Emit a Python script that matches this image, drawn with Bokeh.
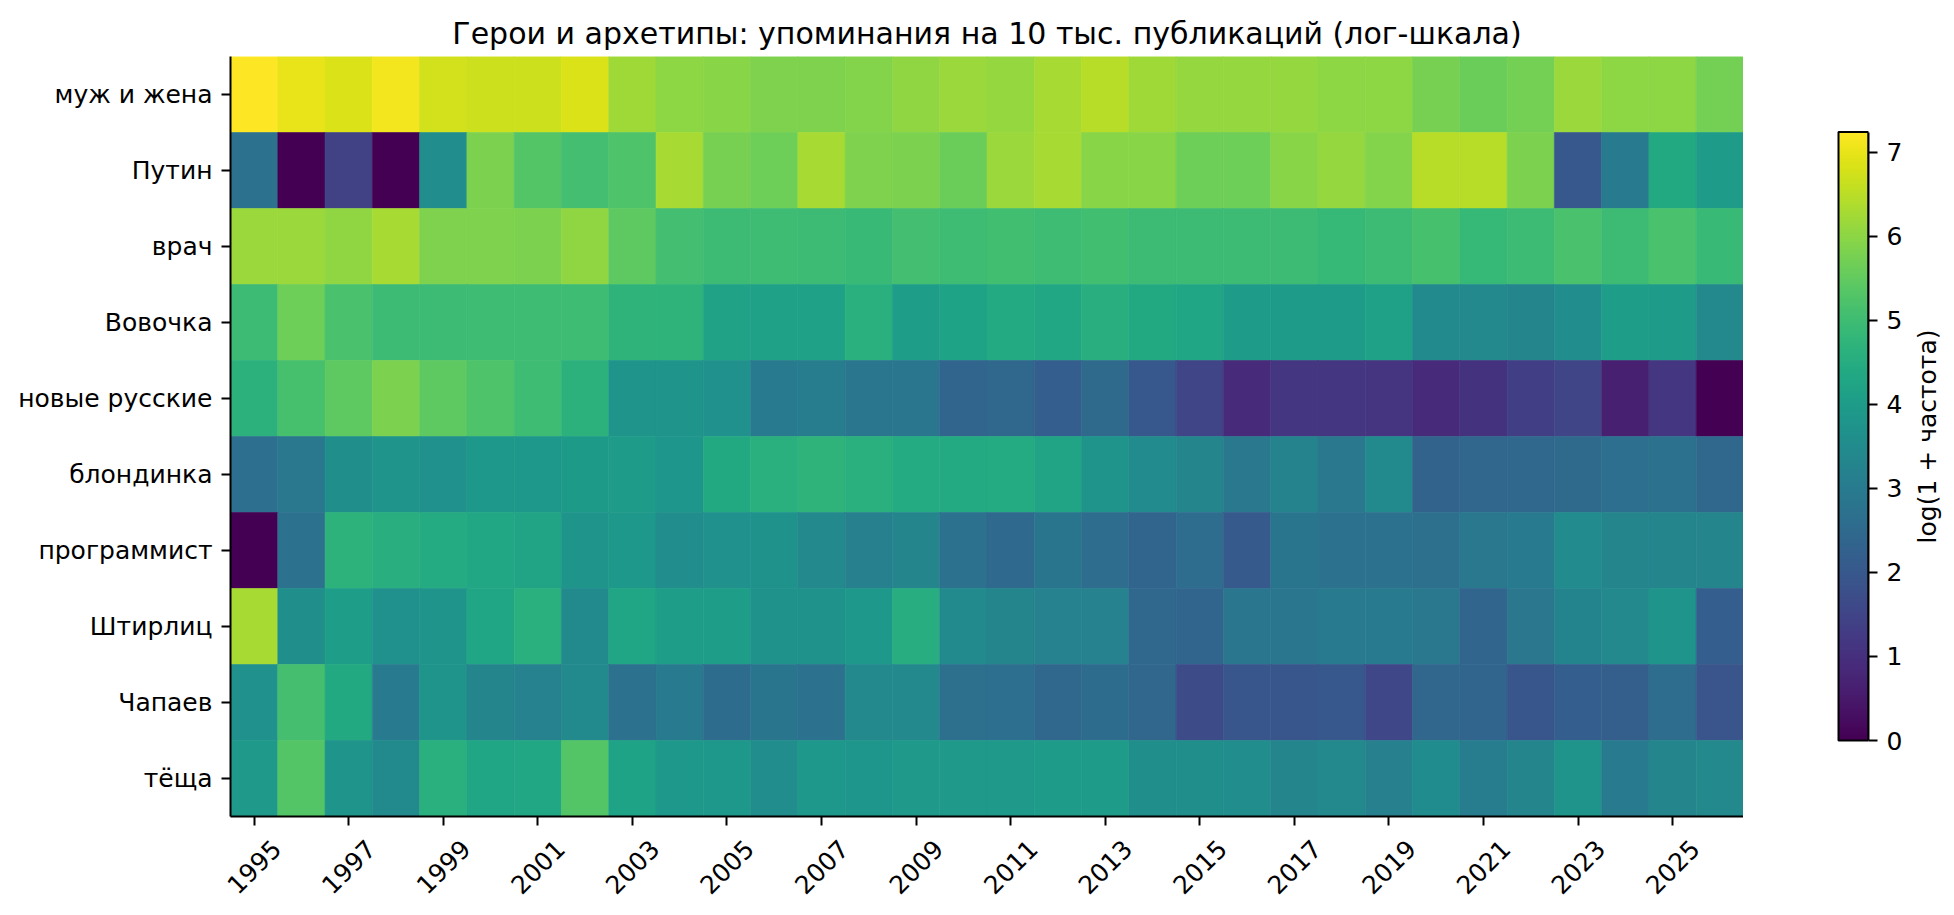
import numpy as np
from bokeh.plotting import figure
from bokeh.models import (Range1d, FactorRange, FixedTicker, LinearColorMapper,
                          ColumnDataSource, LinearAxis)
from bokeh.layouts import row
from bokeh.palettes import Viridis256
from bokeh.embed import file_html
from bokeh.resources import INLINE

years = list(range(1995, 2027))
heroes = ["муж и жена", "Путин", "врач", "Вовочка", "новые русские",
          "блондинка", "программист", "Штирлиц", "Чапаев", "тёща"]

muzh_i_zhena = [7.24, 7.0, 6.85, 7.1, 6.75, 6.7, 6.7, 6.85, 6.2, 6.0, 5.95, 5.85, 5.85, 5.9, 6.05, 6.15,
                6.1, 6.3, 6.45, 6.2, 6.1, 6.1, 6.1, 6.0, 6.0, 5.75, 5.6, 5.72, 6.15, 6.0, 6.02, 5.72]
putin = [2.7, 0.0, 1.4, 0.0, 3.55, 5.8, 5.3, 5.07, 5.25, 6.3, 5.75, 5.65, 6.3, 5.85, 5.82, 5.6,
         6.15, 6.3, 5.95, 5.95, 5.65, 5.65, 5.95, 6.1, 5.9, 6.45, 6.45, 5.8, 2.0, 3.0, 4.4, 3.98]
vrach = [6.15, 6.15, 6.05, 6.3, 5.85, 5.85, 5.8, 6.05, 5.45, 5.08, 4.95, 5.0, 4.95, 4.88, 5.08, 4.98,
         5.05, 5.0, 5.05, 4.97, 4.97, 4.95, 4.95, 4.85, 4.97, 5.12, 4.85, 4.97, 5.17, 4.97, 5.17, 4.88]
vovochka = [4.97, 5.65, 5.15, 4.95, 4.95, 5.0, 4.98, 4.98, 4.7, 4.72, 4.18, 4.15, 4.15, 4.6, 4.05, 4.2,
            4.42, 4.35, 4.58, 4.4, 4.28, 4.0, 4.0, 4.0, 4.15, 3.45, 3.4, 3.3, 3.55, 4.05, 4.0, 3.4]
novye_russkie = [4.65, 5.12, 5.45, 5.8, 5.45, 5.25, 4.98, 4.65, 3.75, 3.75, 3.65, 3.0, 3.05, 2.85, 2.85, 2.35,
                 2.45, 2.15, 2.5, 2.0, 1.5, 0.85, 1.15, 1.15, 1.12, 0.9, 1.05, 1.35, 1.5, 0.65, 1.15, 0.0]
blondinka = [2.65, 2.9, 3.6, 3.75, 3.65, 3.85, 3.85, 3.95, 4.0, 3.8, 4.4, 4.6, 4.7, 4.6, 4.45, 4.42,
             4.45, 4.22, 3.75, 3.5, 3.3, 2.9, 3.25, 2.9, 3.45, 2.3, 2.4, 2.45, 2.5, 2.65, 2.72, 2.45]
programmist = [0.0, 2.7, 4.68, 4.58, 4.45, 4.3, 4.22, 3.75, 3.85, 3.55, 3.65, 3.7, 3.4, 3.15, 3.3, 2.7,
               2.48, 2.8, 2.6, 2.35, 2.6, 2.05, 2.8, 2.72, 2.72, 2.68, 2.9, 3.0, 3.5, 3.3, 3.3, 3.3]
shtirlits = [6.3, 3.6, 4.05, 3.65, 3.75, 4.28, 4.6, 3.45, 4.25, 4.05, 4.03, 3.7, 3.7, 3.85, 4.5, 3.45,
             3.3, 3.2, 3.2, 2.45, 2.35, 2.85, 2.85, 3.0, 3.0, 2.9, 2.35, 2.88, 3.28, 3.4, 3.75, 2.15]
chapaev = [3.65, 5.1, 4.4, 3.0, 3.75, 3.3, 3.2, 3.45, 2.7, 3.0, 2.55, 2.8, 2.7, 3.4, 3.4, 2.68,
           2.65, 2.45, 2.55, 2.4, 1.65, 1.95, 1.95, 1.98, 1.55, 2.4, 2.35, 1.95, 2.15, 2.2, 2.6, 1.9]
teshcha = [3.88, 5.3, 3.75, 3.45, 4.6, 4.25, 4.35, 5.3, 4.2, 3.85, 3.85, 3.55, 3.85, 3.8, 3.88, 3.88,
           3.92, 4.0, 4.0, 3.6, 3.6, 3.55, 3.3, 3.4, 3.15, 3.52, 3.05, 3.3, 3.75, 2.95, 3.3, 3.4]

series = [muzh_i_zhena, putin, vrach, vovochka, novye_russkie,
          blondinka, programmist, shtirlits, chapaev, teshcha]

tick_years = list(range(1995, 2027, 2))
cb_ticks = [0, 1, 2, 3, 4, 5, 6, 7]
vmin, vmax = 0.0, 7.24

xs, ys, vs = [], [], []
for h, vals in zip(heroes, series):
    for y, v in zip(years, vals):
        xs.append(y)
        ys.append(h)
        vs.append(v)
src = ColumnDataSource(dict(year=xs, hero=ys, val=vs))

mapper = LinearColorMapper(palette=Viridis256, low=vmin, high=vmax)

FONT = "DejaVu Sans"
FS = "25px"
LW = 2

TOP, BOTTOM = 56, 99

p = figure(width=1743, height=915,
           x_range=Range1d(years[0] - 0.5, years[-1] + 0.5),
           y_range=FactorRange(factors=heroes[::-1]),
           output_backend="svg", toolbar_location=None,
           min_border_left=230, min_border_right=0,
           min_border_top=TOP, min_border_bottom=BOTTOM,
           title="Герои и архетипы: упоминания на 10 тыс. публикаций (лог-шкала)")

p.rect(x="year", y="hero", width=1, height=1, source=src,
       fill_color={"field": "val", "transform": mapper},
       line_color={"field": "val", "transform": mapper}, line_width=0.6)

p.xgrid.visible = False
p.ygrid.visible = False
p.outline_line_color = None
for ax in (p.xaxis[0], p.yaxis[0]):
    ax.axis_line_width = LW
    ax.axis_line_color = "black"
    ax.major_tick_line_width = LW
    ax.major_tick_line_color = "black"
    ax.major_tick_in = 0
    ax.major_tick_out = 9
    ax.minor_tick_line_color = None
    ax.minor_tick_out = 0
    ax.major_label_standoff = 9
    ax.major_label_text_font = FONT
    ax.major_label_text_font_size = FS
    ax.major_label_text_color = "black"

# tick marks only on the primary x axis
p.xaxis[0].ticker = FixedTicker(ticks=tick_years)
p.xaxis[0].major_label_text_color = None

# year labels, centred under the ticks like matplotlib's rotated labels
shift = 0.476
p.extra_x_ranges = {"lab": Range1d(years[0] - 0.5 - shift, years[-1] + 0.5 - shift)}
lab_axis = LinearAxis(x_range_name="lab", ticker=FixedTicker(ticks=tick_years))
lab_axis.axis_line_color = None
lab_axis.major_tick_line_color = None
lab_axis.minor_tick_line_color = None
lab_axis.major_tick_in = 0
lab_axis.major_tick_out = 0
lab_axis.minor_tick_out = 0
lab_axis.major_label_standoff = 19
lab_axis.major_label_orientation = np.pi / 4
lab_axis.major_label_text_font = FONT
lab_axis.major_label_text_font_size = FS
lab_axis.major_label_text_color = "black"
p.add_layout(lab_axis, "below")

p.title.text_font = FONT
p.title.text_font_size = "30px"
p.title.text_font_style = "normal"
p.title.text_color = "black"
p.title.align = "center"
p.title.standoff = 11

# colour bar (same frame as the heatmap; the gradient fills 0..vmax)
px_per_unit = (740.0 - 131.6) / (vmax - vmin)
y_lo = vmin - (816 - 740.0) / px_per_unit
y_hi = vmax + (131.6 - 56) / px_per_unit
cb = figure(width=162, height=915,
            x_range=Range1d(-2 / 30, 1), y_range=Range1d(y_lo, y_hi),
            x_axis_location=None, y_axis_location="right",
            output_backend="svg", toolbar_location=None,
            min_border_left=93, min_border_right=37,
            min_border_top=TOP, min_border_bottom=BOTTOM)
grad = np.linspace(vmin, vmax, 512).reshape(512, 1)
cb.image(image=[grad], x=0, y=vmin, dw=1, dh=vmax - vmin, color_mapper=mapper)
cb.quad(left=0, right=1, bottom=vmin, top=vmax, fill_color=None, line_color="black", line_width=LW)
cb.xgrid.visible = False
cb.ygrid.visible = False
cb.outline_line_color = None
cb.yaxis.bounds = (vmin, vmax)
cb.yaxis.ticker = FixedTicker(ticks=cb_ticks)
cb.yaxis.axis_line_color = "black"
cb.yaxis.axis_line_width = LW
cb.yaxis.major_tick_line_width = LW
cb.yaxis.major_tick_line_color = "black"
cb.yaxis.major_tick_in = 0
cb.yaxis.major_tick_out = 9
cb.yaxis.minor_tick_line_color = None
cb.yaxis.minor_tick_out = 0
cb.yaxis.major_label_standoff = 9
cb.yaxis.major_label_text_font = FONT
cb.yaxis.major_label_text_font_size = FS
cb.yaxis.major_label_text_color = "black"

# colour bar caption, reading bottom-to-top
cap = figure(width=49, height=915, x_axis_location=None, y_axis_location=None,
             title="log(1 + частота)", title_location="left",
             output_backend="svg", toolbar_location=None,
             min_border_left=38, min_border_right=0,
             min_border_top=TOP, min_border_bottom=BOTTOM)
cap.outline_line_color = None
cap.xgrid.visible = False
cap.ygrid.visible = False
cap.title.text_font = FONT
cap.title.text_font_size = FS
cap.title.text_font_style = "normal"
cap.title.text_color = "black"
cap.title.align = "center"
cap.title.standoff = 4

layout = row(p, cb, cap)
open("out.html", "w").write(file_html(layout, INLINE))
